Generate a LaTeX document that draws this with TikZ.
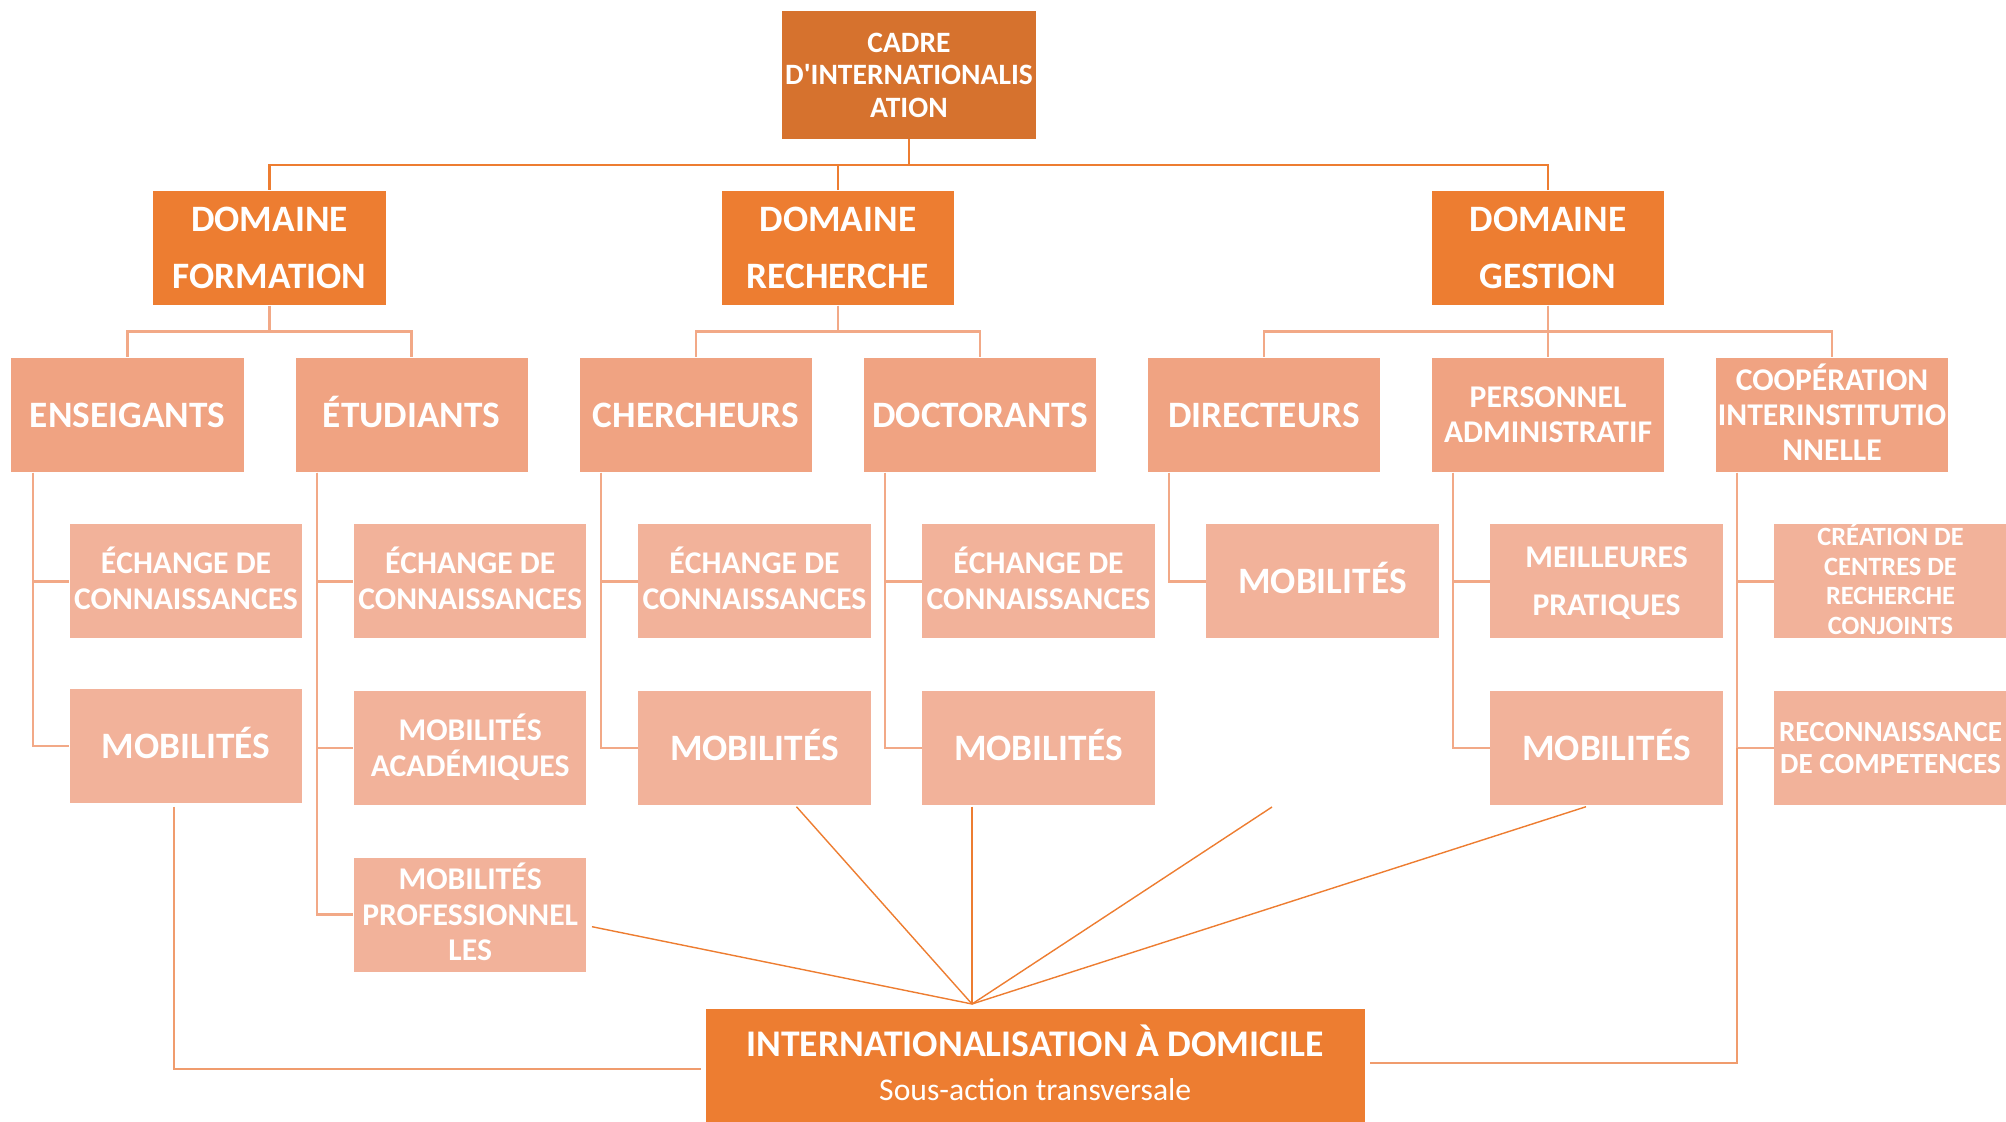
\documentclass[tikz,border=0pt]{standalone}
\usepackage{fontspec}
\setmainfont{Carlito}[Ligatures=TeXOff]
\usetikzlibrary{calc}

\definecolor{cadreorange}{HTML}{D6722E}
\definecolor{domorange}{HTML}{ED7D31}
\definecolor{rolesalmon}{HTML}{F0A382}
\definecolor{actsalmon}{HTML}{F2B29A}
\definecolor{linesalmon}{HTML}{F2A987}

\begin{document}
\begin{tikzpicture}[
    x=0.01cm, y=-0.01cm,
    box/.style={rectangle,inner sep=0pt,text=white,align=center,text depth=0pt,minimum width=2.32cm,minimum height=1.14cm},
    cadrebox/.style={box,fill=cadreorange,minimum width=2.54cm,minimum height=1.27cm,font=\bfseries\fontsize{8.4}{9.25}\selectfont},
    domainbox/.style={box,fill=domorange,font=\bfseries\fontsize{10.6}{16.1}\selectfont},
    rolebox/.style={box,fill=rolesalmon,font=\bfseries\fontsize{10.6}{12}\selectfont},
    rolesmall/.style={box,fill=rolesalmon,font=\bfseries\fontsize{9}{10}\selectfont},
    actionbox/.style={box,fill=actsalmon,font=\bfseries\fontsize{9}{10.2}\selectfont},
    actionbig/.style={box,fill=actsalmon,font=\bfseries\fontsize{10.6}{12}\selectfont},
    topline/.style={draw=domorange,line width=0.7pt},
    treeline/.style={draw=linesalmon,line width=0.7pt},
    fanline/.style={draw=domorange,line width=0.4pt},
    longline/.style={draw=linesalmon!70!domorange,line width=0.5pt}
    ]

    \useasboundingbox (0,0) rectangle (2006,1122);

    % top:
    \node (cadre) at (909,75) [cadrebox] {CADRE\\D'INTERNATIONALIS\\ATION};

    % domains:
    \foreach \n/\x/\t in {formation/269.5/FORMATION, recherche/838/RECHERCHE, gestion/1548/GESTION}
    \node (\n) at (\x,248) [domainbox] {DOMAINE\\\t};

    % actors:
    \foreach \n/\x/\t in {ens/127.5/ENSEIGANTS, etu/411.7/\smash{É}TUDIANTS, cher/696/CHERCHEURS, doc/980/DOCTORANTS, dir/1264/DIRECTEURS}
    \node (\n) at (\x,415) [rolebox] {\t};
    \node (pers) at (1548,415) [rolesmall] {PERSONNEL\\ADMINISTRATIF};
    \node (coop) at (1832,415) [rolesmall] {COOP\smash{É}RATION\\INTERINSTITUTIO\\NNELLE};

    % first row of actions:
    \foreach \n/\x in {ensech/186, etuech/470.2, cherech/754.5, docech/1038.5}
    \node (\n) at (\x,581.3) [actionbox] {\smash{É}CHANGE DE\\CONNAISSANCES};
    \node (dirmob) at (1322.5,581.3) [actionbig] {MOBILIT\smash{É}S};
    \node (persmeil) at (1606.5,581.3) [actionbox,font=\bfseries\fontsize{9}{13.7}\selectfont] {MEILLEURES\\PRATIQUES};
    \node (coopcre) at (1890.5,581.3) [actionbox,font=\bfseries\fontsize{7.5}{8.4}\selectfont] {CR\smash{É}ATION DE\\CENTRES DE\\RECHERCHE\\CONJOINTS};

    % second row of actions:
    \node (ensmob) at (186,746) [actionbig] {MOBILIT\smash{É}S};
    \node (etuacad) at (470.2,748) [actionbox] {MOBILIT\smash{É}S\\ACADÉMIQUES};
    \foreach \n/\x in {chermob/754.5, docmob/1038.5, persmob/1606.5}
    \node (\n) at (\x,748) [actionbig] {MOBILIT\smash{É}S};
    \node (coopreco) at (1890.5,748) [actionbox,font=\bfseries\fontsize{8.3}{9.1}\selectfont] {RECONNAISSANCE\\DE COMPETENCES};

    % third row:
    \node (etupro) at (470.2,914.7) [actionbox] {MOBILIT\smash{É}S\\PROFESSIONNEL\\LES};

    % bottom:
    \node (intern) at (1035.25,1066) [domainbox,minimum width=6.585cm,font=\bfseries\fontsize{10.7}{12.5}\selectfont] {INTERNATIONALISATION \smash{À} DOMICILE\\{\mdseries\fontsize{9}{12.5}\selectfont Sous-action transversale}};

    % connections:
    \foreach \n in {formation,recherche,gestion}
    \draw[topline] (cadre.south) -- ++(0,25.5) -| (\n.north);

    \foreach \p/\c in {formation/ens, formation/etu, recherche/cher, recherche/doc, gestion/dir, gestion/pers, gestion/coop}
    \draw[treeline] (\p.south) -- ++(0,26) -| (\c.north);

    \foreach \p/\c in {ens/ensech, ens/ensmob, etu/etuech, etu/etuacad, etu/etupro, cher/cherech, cher/chermob, doc/docech, doc/docmob, dir/dirmob, pers/persmeil, pers/persmob, coop/coopcre, coop/coopreco}
    \draw[treeline] ([xshift=0.22cm]\p.south west) |- (\c.west);

    % transversal links:
    \coordinate (apex) at (972,1004);
    \coordinate (dirghost) at (1272,807);
    \draw[fanline] ($(etupro.east)+(5,12)$) -- (apex);
    \draw[fanline] ($(chermob.south)+(42,1)$) -- (apex);
    \draw[fanline] ($(docmob.south)+(-66.5,1)$) -- (apex);
    \draw[fanline] (dirghost) -- (apex);
    \draw[fanline] ($(persmob.south)+(-20.5,1)$) -- (apex);

    \coordinate (coopx) at ([xshift=0.22cm]coop.south west);
    \draw[longline] ($(ensmob.south)+(-12,3)$) |- ($(intern.west)+(-4,3)$);
    \draw[longline] ($(intern.east)+(5,-3)$) -| (coopreco.west -| coopx);

  \end{tikzpicture}
\end{document}
